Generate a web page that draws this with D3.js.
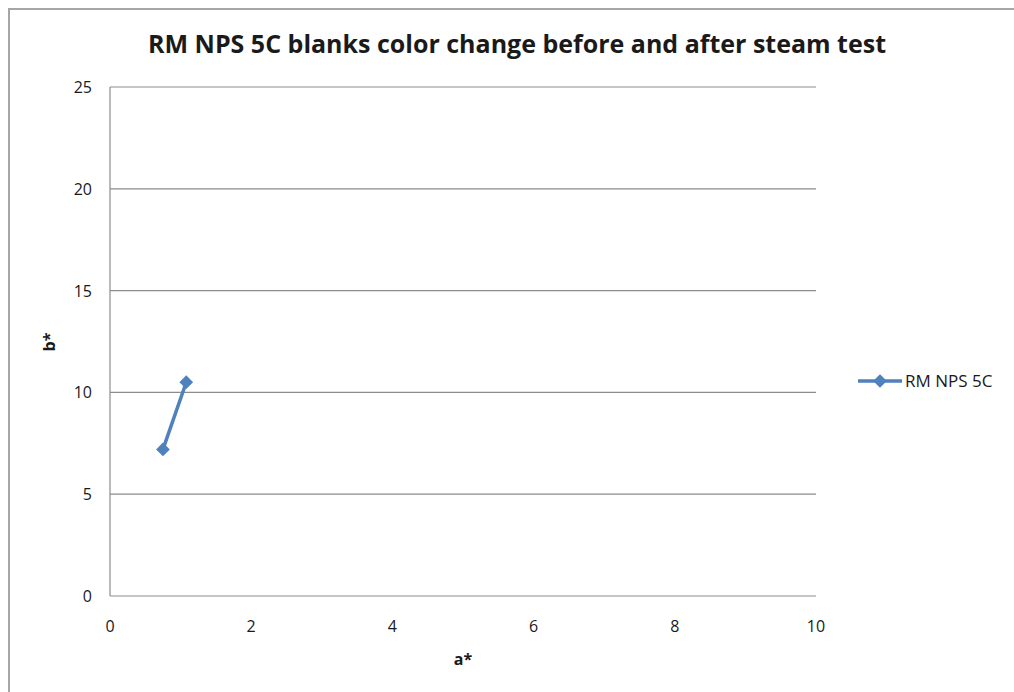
<!DOCTYPE html>
<html>
<head>
<meta charset="utf-8">
<script src="https://cdn.jsdelivr.net/npm/d3@7"></script>
<style>
  body { margin: 0; background: #fff; }
  text { font-family: "Open Sans", "Liberation Sans", sans-serif; fill: #1a1a1a; }
</style>
</head>
<body>
<svg width="1014" height="692"></svg>
<script>
const seriesName = "RM NPS 5C";
const aValues = [0.75, 1.08];
const bValues = [7.2, 10.5];
const xTicks = [0, 2, 4, 6, 8, 10];
const yTicks = [0, 5, 10, 15, 20, 25];

const svg = d3.select("svg");
const blue = "#4f81bd";

// outer chart border (only top and left show in the frame)
svg.append("path")
  .attr("d", "M9,692 V9 H1014")
  .attr("fill", "none")
  .attr("stroke", "#a6a6a6")
  .attr("stroke-width", 2);

const x = d3.scaleLinear().domain([0, 10]).range([110, 816]);
const y = d3.scaleLinear().domain([0, 25]).range([596, 87]);

// gridlines
svg.selectAll(".grid")
  .data(yTicks.filter(d => d > 0))
  .enter().append("line")
  .attr("x1", x(0)).attr("x2", x(10))
  .attr("y1", d => y(d)).attr("y2", d => y(d))
  .attr("stroke", "#8c8c8c")
  .attr("stroke-width", 1.2);

// axes lines
svg.append("line")
  .attr("x1", x(0)).attr("x2", x(10))
  .attr("y1", y(0)).attr("y2", y(0))
  .attr("stroke", "#8c8c8c").attr("stroke-width", 1.2);
svg.append("line")
  .attr("x1", x(0)).attr("x2", x(0))
  .attr("y1", y(0)).attr("y2", y(25))
  .attr("stroke", "#8c8c8c").attr("stroke-width", 1.2);

// tick labels
svg.selectAll(".ylab")
  .data(yTicks)
  .enter().append("text")
  .attr("x", 92)
  .attr("y", d => y(d) + 6)
  .attr("text-anchor", "end")
  .style("font-size", "16px")
  .text(d => d);

svg.selectAll(".xlab")
  .data(xTicks)
  .enter().append("text")
  .attr("x", d => x(d))
  .attr("y", 632)
  .attr("text-anchor", "middle")
  .style("font-size", "16px")
  .text(d => d);

// titles
svg.append("text")
  .attr("x", 517).attr("y", 53)
  .attr("text-anchor", "middle")
  .style("font-size", "25px").style("font-weight", "bold")
  .text("RM NPS 5C blanks color change before and after steam test");

svg.append("text")
  .attr("x", 463).attr("y", 665)
  .attr("text-anchor", "middle")
  .style("font-size", "16px").style("font-weight", "bold")
  .text("a*");

svg.append("text")
  .attr("transform", "translate(55," + 342 + ") rotate(-90)")
  .attr("text-anchor", "middle")
  .style("font-size", "16px").style("font-weight", "bold")
  .text("b*");

// series
const pts = aValues.map((a, i) => [a, bValues[i]]);
svg.append("path")
  .datum(pts)
  .attr("d", d3.line().x(d => x(d[0])).y(d => y(d[1])))
  .attr("fill", "none")
  .attr("stroke", blue)
  .attr("stroke-width", 3.5);

const diamond = d3.symbol().type(d3.symbolDiamond2).size(120);
svg.selectAll(".pt")
  .data(pts)
  .enter().append("path")
  .attr("d", diamond)
  .attr("transform", d => "translate(" + x(d[0]) + "," + y(d[1]) + ")")
  .attr("fill", blue);

// legend
svg.append("line")
  .attr("x1", 858).attr("x2", 902)
  .attr("y1", 381).attr("y2", 381)
  .attr("stroke", blue).attr("stroke-width", 3.5);
svg.append("path")
  .attr("d", diamond)
  .attr("transform", "translate(880,381)")
  .attr("fill", blue);
svg.append("text")
  .attr("x", 905).attr("y", 387)
  .style("font-size", "17px")
  .text(seriesName);
</script>
</body>
</html>
